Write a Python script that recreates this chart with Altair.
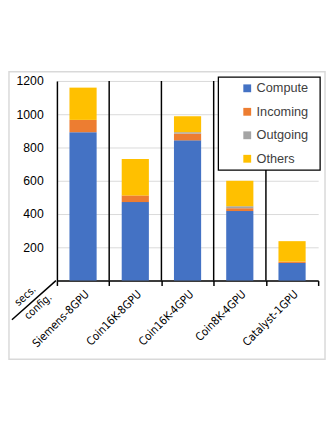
import altair as alt
import pandas as pd

configs = ["Siemens-8GPU", "Coin16K-8GPU", "Coin16K-4GPU", "Coin8K-4GPU", "Catalyst-1GPU"]
series = ["Compute", "Incoming", "Outgoing", "Others"]
colors = ["#4472C4", "#ED7D31", "#A5A5A5", "#FFC000"]
compute = [892, 472, 843, 418, 106]
incoming = [74, 40, 41, 17, 8]
outgoing = [0, 0, 8, 12, 0]
others = [194, 219, 96, 153, 123]
y_ticks = [0, 200, 400, 600, 800, 1000, 1200]

rows = []
for i, c in enumerate(configs):
    for j, (s, vals) in enumerate(zip(series, [compute, incoming, outgoing, others])):
        rows.append({"config": c, "series": s, "order": j, "secs": vals[i]})
df = pd.DataFrame(rows)
sep_df = pd.DataFrame({"config": configs[1:]})

W, H = 267, 204
xscale = alt.Scale(domain=configs, paddingInner=0, paddingOuter=0)
cond_font = "DejaVu Sans Condensed, Liberation Sans"

bars = alt.Chart(df).mark_bar(width=alt.RelativeBandSize(0.52)).encode(
    x=alt.X("config:N", scale=xscale, sort=configs, title=None,
            axis=alt.Axis(labelAngle=-45, labelAlign="right", labelBaseline="top",
                          tickBand="extent", tickSize=5, tickColor="black", tickWidth=1.5,
                          domainColor="black", domainWidth=1.5, labelPadding=3,
                          labelFont=cond_font, labelFontSize=11.5,
                          labelColor="black")),
    y=alt.Y("secs:Q", stack="zero", scale=alt.Scale(domain=[0, 1200], nice=False), title=None,
            axis=alt.Axis(values=y_ticks, format="d",
                          labelExpr="datum.value == 0 ? '' : datum.label",
                          grid=True, gridColor="#d9d9d9", ticks=False, domainColor="black",
                          domainWidth=1.5, labelPadding=14, labelFont="Liberation Sans",
                          labelFontSize=12.5, labelColor="black")),
    color=alt.Color("series:N", scale=alt.Scale(domain=series, range=colors),
                    legend=alt.Legend(title=None, orient="none", legendX=188, legendY=1,
                                      symbolType="square", symbolSize=64, symbolStrokeWidth=0,
                                      labelFont="Liberation Sans", labelFontSize=13,
                                      labelColor="#404040", rowPadding=10, labelOffset=3,
                                      padding=0)),
    order=alt.Order("order:Q"),
)

seps = alt.Chart(sep_df).mark_rule(color="black", strokeWidth=1.5).encode(
    x=alt.X("config:N", scale=xscale, sort=configs, bandPosition=0),
    y=alt.value(0), y2=alt.value(H),
)

legend_box = alt.Chart(pd.DataFrame({"k": [0]})).mark_rect(
    fill="white", stroke="black", strokeWidth=1.3
).encode(x=alt.value(165), x2=alt.value(269), y=alt.value(-4), y2=alt.value(91))

outer = alt.Chart(pd.DataFrame({"k": [0]})).mark_rect(
    fill=None, stroke="#d9d9d9", strokeWidth=1.5
).encode(x=alt.value(-49), x2=alt.value(274), y=alt.value(-9.5), y2=alt.value(284.5))

diag = alt.Chart(pd.DataFrame({"k": [0]})).mark_rule(color="black", strokeWidth=1.5).encode(
    x=alt.value(-46), y=alt.value(244), x2=alt.value(-1), y2=alt.value(204))

secs = alt.Chart(pd.DataFrame({"t": ["secs."]})).mark_text(
    angle=318, font=cond_font, fontSize=11, color="black"
).encode(text="t:N", x=alt.value(-32), y=alt.value(220))
conf = alt.Chart(pd.DataFrame({"t": ["config."]})).mark_text(
    angle=318, font=cond_font, fontSize=11, color="black"
).encode(text="t:N", x=alt.value(-19), y=alt.value(231))

chart = alt.layer(outer, bars, seps, legend_box, diag, secs, conf).properties(
    width=W, height=H,
    autosize=alt.AutoSizeParams(type="none"),
    padding={"left": 50, "top": 70, "right": 8, "bottom": 142},
).configure_view(stroke=None)

chart.save("out.html", embed_options={"renderer": "svg", "actions": False})
